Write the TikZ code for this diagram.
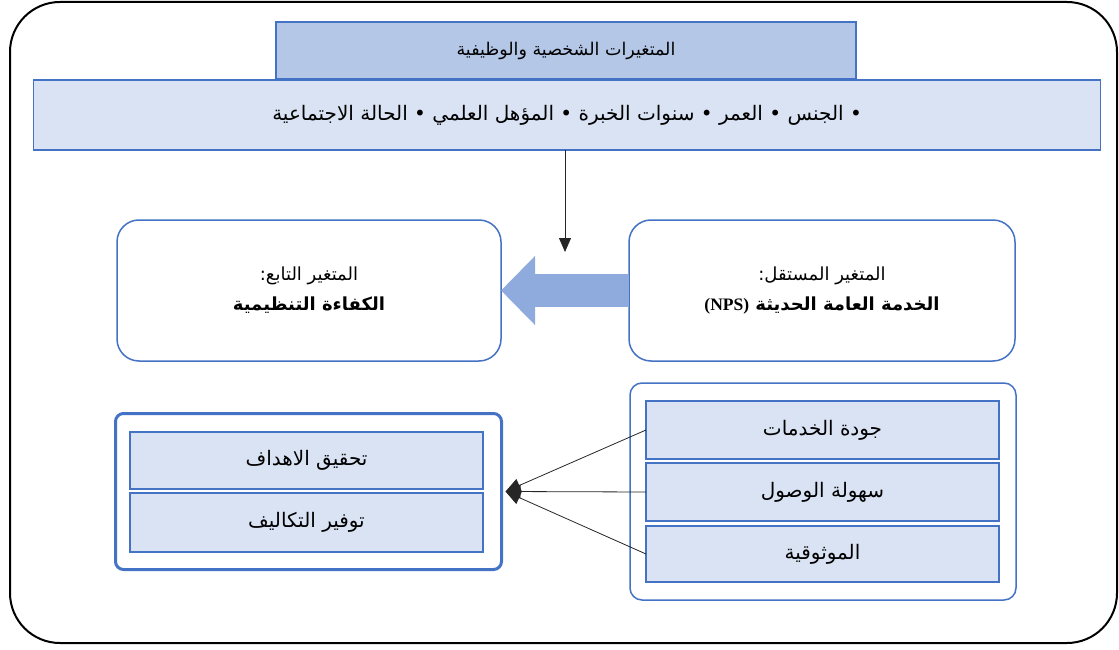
\documentclass[tikz,border=0pt]{standalone}
\usepackage{fontspec}
\usepackage{tikz}
\usetikzlibrary{arrows.meta}
\TeXXeTstate=1
\newfontfamily\arabicfont[Script=Arabic]{DejaVu Sans}
\newfontfamily\latinserif{Liberation Serif}
\newcommand{\artext}[1]{{\arabicfont\beginR #1\endR}}
\definecolor{boxblue}{HTML}{4472C4}
\definecolor{boxfill}{HTML}{DAE3F3}
\definecolor{headfill}{HTML}{B4C7E7}
\definecolor{bigarrow}{HTML}{8FAADC}
\tikzset{
	plainbox/.style={rectangle, draw=boxblue, line width=1.5pt, fill=boxfill, outer sep=0pt, inner sep=0pt, font=\fontsize{20}{24}\selectfont},
	varnode/.style={rectangle, rounded corners=22pt, draw=boxblue, line width=1.5pt, fill=white, outer sep=0pt, align=center, font=\fontsize{18}{30}\selectfont},
	groupnode/.style={rectangle, rounded corners=10pt, draw=boxblue, line width=1.5pt, fill=white, outer sep=0pt},
	thinline/.style={line width=0.8pt, draw=black!85}
}
\begin{document}
\begin{tikzpicture}[x=1pt, y=-1pt]
		\useasboundingbox (0,0) rectangle (1119,650);
		\draw[rounded corners=50pt, line width=2pt] (10,2) rectangle (1117,643);
		% top: personal variables
		\node[plainbox, fill=headfill, font=\fontsize{17.5}{21}\selectfont, minimum width=580pt, minimum height=57pt] at (566,50.5) (head) {\artext{المتغيرات الشخصية والوظيفية}};
		\node[plainbox, minimum width=1067pt, minimum height=70pt] at (567,115) (items) {\artext{• الجنس • العمر • سنوات الخبرة • المؤهل العلمي • الحالة الاجتماعية}};
		% middle: main variables
		\node[varnode, minimum width=384pt, minimum height=141pt] at (309,290.5) (dep) {\artext{المتغير التابع:}\\ \bfseries\artext{الكفاءة التنظيمية}};
		\node[varnode, minimum width=386pt, minimum height=141pt] at (822,290.5) (indep) {\artext{المتغير المستقل:}\\ \bfseries\artext{الخدمة العامة الحديثة \beginL{\latinserif\bfseries\fontsize{17.5}{30}\selectfont(NPS)}\endL}};
		\coordinate (drop) at (565,252);
		\draw[thinline, -{Triangle[length=14pt, width=12pt]}] (items.south -| drop) -- (drop);
		\draw[bigarrow, line width=33pt, -{Triangle[length=34pt, width=67pt]}] (indep.west) -- (dep.east);
		% bottom: dimensions
		\node[groupnode, rounded corners=8pt, line width=3pt, minimum width=386pt, minimum height=156pt] at (308.5,491.5) (outcomes) {};
		\node[plainbox, minimum width=353pt, minimum height=57pt] at (306.5,460.5) (goals) {\artext{تحقيق الاهداف}};
		\node[plainbox, minimum width=353pt, minimum height=59pt] at (306.5,522.5) (costs) {\artext{توفير التكاليف}};
		\node[groupnode, rounded corners=12pt, minimum width=386pt, minimum height=217pt] at (823,491.5) (services) {};
		\node[plainbox, minimum width=353pt, minimum height=58pt] at (822.5,430) (quality) {\artext{جودة الخدمات}};
		\node[plainbox, minimum width=353pt, minimum height=58pt] at (822.5,492) (access) {\artext{سهولة الوصول}};
		\node[plainbox, minimum width=353pt, minimum height=56pt] at (822.5,554) (trust) {\artext{الموثوقية}};
		\foreach \dim in {quality,access,trust}
			\draw[thinline, -{Triangle[length=15pt, width=14pt]}] (\dim.west) -- ([xshift=4pt]outcomes.east);
	\end{tikzpicture}
\end{document}
